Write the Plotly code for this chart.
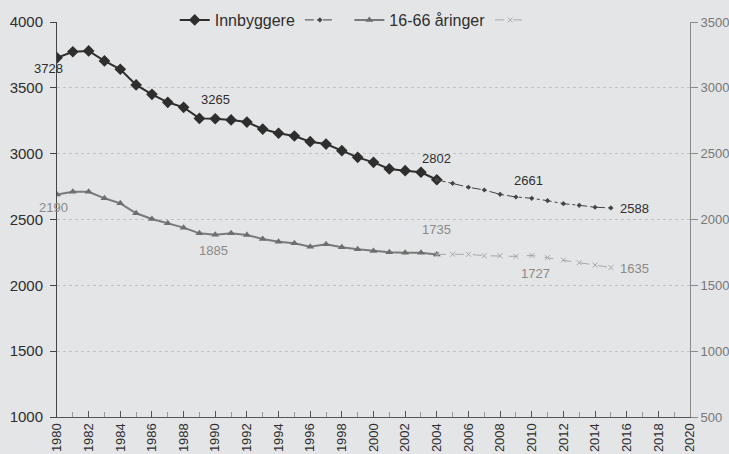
import plotly.graph_objects as go

years_hist = list(range(1980, 2005))
years_proj = list(range(2004, 2016))

innbyggere_hist = [3728, 3774, 3780, 3704, 3641, 3522, 3451, 3390, 3352, 3268, 3265, 3256,
                   3240, 3187, 3155, 3134, 3091, 3073, 3023, 2972, 2934, 2884, 2871, 2859, 2802]
innbyggere_proj = [2802, 2775, 2745, 2724, 2691, 2671, 2661, 2643, 2620, 2608, 2593, 2588]

aar1666_hist = [2190, 2211, 2211, 2161, 2123, 2047, 2004, 1971, 1938, 1895, 1885, 1895,
                1882, 1852, 1831, 1819, 1793, 1812, 1789, 1774, 1761, 1751, 1748, 1748, 1735]
aar1666_proj = [1735, 1736, 1736, 1725, 1725, 1720, 1727, 1710, 1692, 1672, 1654, 1635]

left_ticks = [1000, 1500, 2000, 2500, 3000, 3500, 4000]
right_ticks = [500, 1000, 1500, 2000, 2500, 3000, 3500]
x_ticks = list(range(1980, 2021, 2))

BG = "#e4e5e6"
DARK = "#2e2e2e"
GREY = "#7a7a7a"
LIGHT = "#a8a8a8"
FONT = "Liberation Sans, Arial, sans-serif"

fig = go.Figure()

fig.add_trace(go.Scatter(
    x=years_hist, y=innbyggere_hist, name="Innbyggere", mode="lines+markers",
    line=dict(color=DARK, width=2), marker=dict(symbol="diamond", size=9, color=DARK)))
fig.add_trace(go.Scatter(
    x=years_proj, y=innbyggere_proj, name=" ", mode="lines+markers",
    line=dict(color="#444444", width=1, dash="dashdot"),
    marker=dict(symbol="diamond", size=4, color="#444444")))
fig.add_trace(go.Scatter(
    x=years_hist, y=aar1666_hist, name="16-66 åringer", mode="lines+markers", yaxis="y2",
    line=dict(color=GREY, width=2), marker=dict(symbol="triangle-up", size=7, color="#6e6e6e")))
fig.add_trace(go.Scatter(
    x=years_proj, y=aar1666_proj, name=" ", mode="lines+markers", yaxis="y2",
    line=dict(color=LIGHT, width=1, dash="dash"),
    marker=dict(symbol="x-thin", size=5, color=LIGHT, line=dict(color=LIGHT, width=1))))

# data labels
def lab(x, y, text, color, yref="y", xshift=0, yshift=0, xanchor="center"):
    fig.add_annotation(x=x, y=y, yref=yref, text=text, showarrow=False,
                       xshift=xshift, yshift=yshift, xanchor=xanchor,
                       font=dict(family=FONT, size=13, color=color))

i80 = years_hist.index(1980)
i90 = years_hist.index(1990)
lab(1980, innbyggere_hist[i80], str(innbyggere_hist[i80]), DARK, xshift=-9, yshift=-11)
lab(1980, aar1666_hist[i80], str(aar1666_hist[i80]), "#8a8a8a", yref="y2", xshift=-4, yshift=-13)
lab(1990, innbyggere_hist[i90], str(innbyggere_hist[i90]), DARK, yshift=19)
lab(1990, aar1666_hist[i90], str(aar1666_hist[i90]), "#8a8a8a", yref="y2", xshift=-2, yshift=-16)
lab(2004, innbyggere_hist[-1], str(innbyggere_hist[-1]), DARK, yshift=21)
lab(2004, aar1666_hist[-1], str(aar1666_hist[-1]), "#8a8a8a", yref="y2", yshift=25)
j10 = years_proj.index(2010)
lab(2010, innbyggere_proj[j10], str(innbyggere_proj[j10]), DARK, xshift=-3, yshift=18)
lab(2010, aar1666_proj[j10], str(aar1666_proj[j10]), "#8a8a8a", yref="y2", xshift=4, yshift=-18)
lab(2015, innbyggere_proj[-1], str(innbyggere_proj[-1]), DARK, xshift=7, yshift=-1, xanchor="left")
lab(2015, aar1666_proj[-1], str(aar1666_proj[-1]), "#8a8a8a", yref="y2", xshift=7, yshift=-1, xanchor="left")

fig.update_layout(
    width=729, height=454,
    margin=dict(l=57, r=39, t=22, b=37, autoexpand=False),
    paper_bgcolor=BG, plot_bgcolor=BG,
    font=dict(family=FONT, color=DARK),
    showlegend=True,
    legend=dict(orientation="h", x=0.186, xanchor="left",
                yref="container", y=1 - 20 / 454, yanchor="middle",
                bgcolor=BG, font=dict(size=16, color=DARK), itemwidth=30,
                tracegroupgap=0),
    xaxis=dict(range=[1980, 2020], tickmode="array", tickvals=x_ticks,
               ticktext=[str(v) for v in x_ticks], tickangle=-90,
               showgrid=False, zeroline=False, showline=True, linecolor="#555555",
               ticks="inside", ticklen=6, tickcolor="#555555",
               minor=dict(dtick=1, ticks="inside", ticklen=5, tickcolor="#999999"),
               tickfont=dict(size=13, color=DARK), automargin=False),
    yaxis=dict(range=[1000, 4000], tickmode="array", tickvals=left_ticks,
               showgrid=True, gridcolor="#c2c2c2", griddash="dot", gridwidth=1,
               zeroline=False, showline=True, linecolor="#444444", linewidth=1,
               ticks="outside", ticklen=6, tickcolor="#444444", ticklabelstandoff=4,
               tickfont=dict(size=15, color=DARK), automargin=False),
    yaxis2=dict(range=[500, 3500], tickmode="array", tickvals=right_ticks,
                overlaying="y", side="right", showgrid=False, zeroline=False,
                showline=True, linecolor="#8a8a8a", ticks="outside", ticklen=7,
                tickcolor="#8a8a8a", tickfont=dict(size=13, color="#777777"),
                automargin=False),
)

fig.write_html("out.html", config={"displayModeBar": False},
               post_script="document.body.style.margin='0';document.body.style.background='" + BG + "';")
